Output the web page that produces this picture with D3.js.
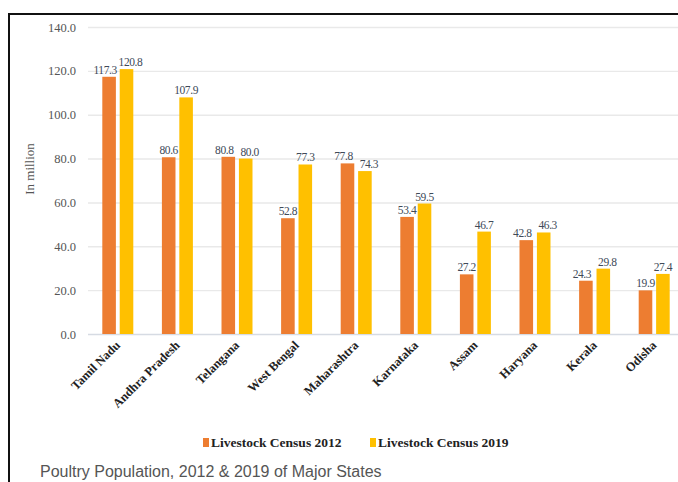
<!DOCTYPE html>
<html>
<head>
<meta charset="utf-8">
<script src="https://cdn.jsdelivr.net/npm/d3@7"></script>
<style>
  body { margin: 0; background: #fff; }
  svg { display: block; }
</style>
</head>
<body>
<svg id="chart" width="678" height="482"></svg>
<script>
const states = ['Tamil Nadu', 'Andhra Pradesh', 'Telangana', 'West Bengal', 'Maharashtra',
    'Karnataka', 'Assam', 'Haryana', 'Kerala', 'Odisha'];
const census2012 = [117.3, 80.6, 80.8, 52.8, 77.8, 53.4, 27.2, 42.8, 24.3, 19.9];
const census2019 = [120.8, 107.9, 80.0, 77.3, 74.3, 59.5, 46.7, 46.3, 29.8, 27.4];
const seriesNames = ['Livestock Census 2012', 'Livestock Census 2019'];
const yTicks = [0, 20, 40, 60, 80, 100, 120, 140];

const colors = ['#ED7D31', '#FFC000'];
const serif = '"Liberation Serif", "DejaVu Serif", serif';

const svg = d3.select('#chart');

// frame of the screenshot
svg.append('rect')
    .attr('x', 9).attr('y', 14)
    .attr('width', 700).attr('height', 500)
    .attr('fill', 'none')
    .attr('stroke', '#111')
    .attr('stroke-width', 2);

const x = d3.scaleBand()
    .domain(states)
    .range([88, 684])
    .paddingInner(0.48)
    .paddingOuter(0.24);

const xs = d3.scaleBand()
    .domain([0, 1])
    .range([0, x.bandwidth()])
    .paddingInner(0.22);

const y = d3.scaleLinear()
    .domain([0, 140])
    .range([334, 27]);

// gridlines + y labels
const yAxis = svg.append('g')
    .attr('transform', 'translate(88,0)')
    .call(d3.axisLeft(y).tickValues(yTicks).tickSize(-600).tickFormat(d3.format('.1f')).tickPadding(12));
yAxis.select('.domain').remove();
yAxis.selectAll('.tick line')
    .attr('stroke', d => d === 0 ? '#d6dbe3' : '#e9e9e9')
    .attr('stroke-width', 1.4);
yAxis.selectAll('.tick text')
    .attr('fill', '#555')
    .style('font-family', serif)
    .style('font-size', '12.5px');

svg.append('text')
    .attr('transform', 'translate(34,169) rotate(-90)')
    .attr('text-anchor', 'middle')
    .attr('fill', '#555')
    .style('font-family', serif)
    .style('font-size', '13px')
    .text('In million');

const rows = states.map((s, i) => ({ state: s, values: [census2012[i], census2019[i]] }));

const groups = svg.selectAll('g.state')
    .data(rows)
    .enter().append('g')
    .attr('class', 'state')
    .attr('transform', d => `translate(${x(d.state)},0)`);

groups.selectAll('rect')
    .data(d => d.values.map((v, k) => ({ k, v })))
    .enter().append('rect')
    .attr('x', d => xs(d.k))
    .attr('y', d => y(d.v))
    .attr('width', xs.bandwidth())
    .attr('height', d => y(0) - y(d.v))
    .attr('fill', d => colors[d.k]);

// labels of a pair that sit at nearly the same height get pushed apart
groups.selectAll('text.val')
    .data(d => {
        const close = Math.abs(y(d.values[0]) - y(d.values[1])) < 13;
        return d.values.map((v, k) => ({ k, v, nudge: close ? (k === 0 ? -4 : 4) : 0 }));
    })
    .enter().append('text')
    .attr('class', 'val')
    .attr('x', d => xs(d.k) + xs.bandwidth() / 2 + d.nudge)
    .attr('y', d => y(d.v) - 3)
    .attr('text-anchor', 'middle')
    .attr('fill', '#404a58')
    .style('font-family', serif)
    .style('font-size', '11.5px')
    .style('letter-spacing', '-0.4px')
    .text(d => d3.format('.1f')(d.v));

// x labels
const xAxis = svg.append('g')
    .attr('transform', 'translate(0,334)')
    .call(d3.axisBottom(x).tickSize(0).tickPadding(0));
xAxis.select('.domain').remove();
xAxis.selectAll('.tick text')
    .attr('text-anchor', 'end')
    .attr('dy', 0)
    .attr('transform', 'translate(3,12) rotate(-45)')
    .attr('fill', '#222')
    .style('font-family', serif)
    .style('font-size', '12.5px')
    .style('font-weight', 'bold');

// legend
const legend = svg.append('g').attr('transform', 'translate(203,438)');
const legendX = [0, 167];
seriesNames.forEach((name, i) => {
    const g = legend.append('g').attr('transform', `translate(${legendX[i]},0)`);
    g.append('rect').attr('width', 6).attr('height', 9).attr('fill', colors[i]);
    g.append('text')
        .attr('x', 8).attr('y', 9)
        .attr('fill', '#222')
        .style('font-family', serif)
        .style('font-size', '13.5px')
        .style('font-weight', 'bold')
        .text(name);
});

svg.append('text')
    .attr('x', 40).attr('y', 477)
    .attr('fill', '#555')
    .style('font-family', '"Liberation Sans", Arial, sans-serif')
    .style('font-size', '16px')
    .text('Poultry Population, 2012 & 2019 of Major States');
</script>
</body>
</html>
